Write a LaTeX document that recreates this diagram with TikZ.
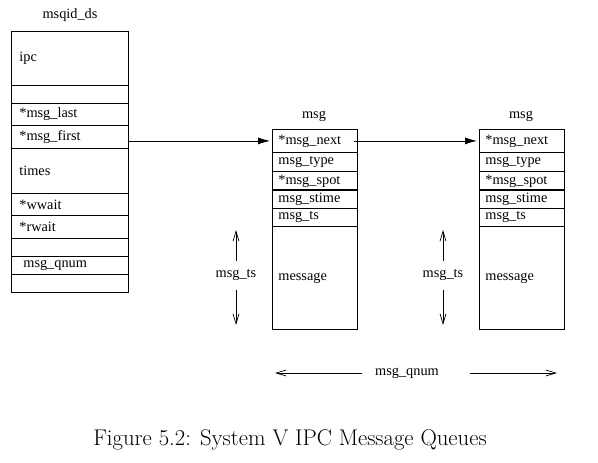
\documentclass[tikz,border=0pt]{standalone}
\usepackage{fontspec}
\newfontfamily\lbl{Liberation Serif}
\usetikzlibrary{arrows.meta}
\tikzset{
  lab/.style={font=\lbl\fontsize{14.3}{16}\selectfont, inner sep=0pt},
  lrow/.style={draw, line width=0.8pt, anchor=north west, minimum width=117pt, inner xsep=8pt, text width=101pt, align=left, font=\lbl\fontsize{14.3}{16}\selectfont},
  mrow/.style={draw, line width=0.8pt, anchor=north west, minimum width=85pt, inner xsep=6pt, text width=73pt, align=left, font=\lbl\fontsize{14.3}{16}\selectfont},
  link/.style={line width=0.8pt, -{Latex[length=12pt,width=7pt]}, shorten >=2pt},
  dim/.style={line width=0.7pt, -{Straight Barb[length=10pt,width=6pt]}},
}
\begin{document}
\begin{tikzpicture}[x=1pt,y=-1pt]
\useasboundingbox (0,0) rectangle (598,463);
% left structure
\node[lab] (title) at (70,15) {msqid\_ds};
\node[lrow, minimum height=54pt] (l1) at (11,31) {ipc};
\node[lrow, minimum height=18pt] (l2) at (11,85) {};
\node[lrow, minimum height=22pt] (l3) at (11,103) {*msg\_last};
\node[lrow, minimum height=23pt] (l4) at (11,125) {*msg\_first};
\node[lrow, minimum height=45pt] (l5) at (11,148) {times};
\node[lrow, minimum height=22pt] (l6) at (11,193) {*wwait};
\node[lrow, minimum height=23pt] (l7) at (11,215) {*rwait};
\node[lrow, minimum height=18pt] (l8) at (11,238) {};
\node[lrow, minimum height=18pt] (l9) at (11,256) {\hspace{4pt}msg\_qnum};
\node[lrow, minimum height=18pt] (l10) at (11,274) {};
% msg boxes
\foreach \n/\x in {m/272, k/479}{
  \node[mrow, minimum height=23pt] (\n1) at (\x,129) {*msg\_next};
  \node[mrow, minimum height=19pt] (\n2) at (\x,152) {msg\_type};
  \node[mrow, minimum height=18pt] (\n3) at (\x,171) {*msg\_spot};
  \node[mrow, minimum height=19pt] (\n4) at (\x,189) {msg\_stime};
  \node[mrow, minimum height=18pt] (\n5) at (\x,208) {msg\_ts};
  \node[mrow, minimum height=103pt] (\n6) at (\x,226) {message};
}
\node[lab] (mt1) at (314,116) {msg};
\node[lab] (mt2) at (521,116) {msg};
% links
\draw[link] (l4.east |- m1.west) -- (m1.west);
\coordinate (s1) at ([xshift=-4pt]m1.east);
\draw[link] (s1) -- (k1.west);
% msg_ts dimension arrows
\node[lab] (ts1) at (236,275) {msg\_ts};
\node[lab] (ts2) at (443,275) {msg\_ts};
\coordinate (ts1u) at (236,230);
\coordinate (ts1d) at (236,325);
\coordinate (ts2u) at (443,230);
\coordinate (ts2d) at (443,325);
\draw[dim] ([yshift=8pt]ts1.north) -- (ts1u);
\draw[dim] ([yshift=-9pt]ts1.south) -- (ts1d);
\draw[dim] ([yshift=8pt]ts2.north) -- (ts2u);
\draw[dim] ([yshift=-9pt]ts2.south) -- (ts2d);
% msg_qnum
\node[lab] (qn) at (407,373) {msg\_qnum};
\coordinate (qa) at (362,373);
\coordinate (qb) at (275,373);
\coordinate (qc) at (470,373);
\coordinate (qd) at (557,373);
\draw[dim] (qa) -- (qb);
\draw[dim] (qc) -- (qd);
% caption
\node[inner sep=0pt, font=\fontsize{22.7}{26}\selectfont] (cap) at (290,440) {Figure 5.2: System V IPC Message Queues};
\end{tikzpicture}
\end{document}
